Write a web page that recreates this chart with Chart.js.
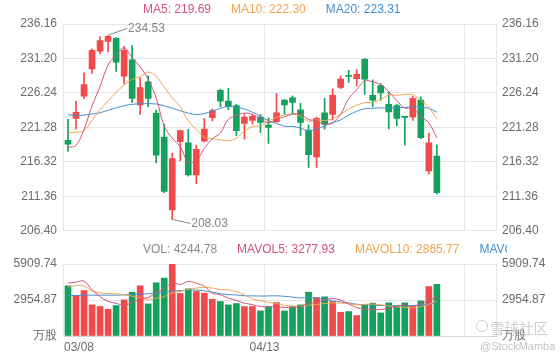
<!DOCTYPE html>
<html>
<head>
<meta charset="utf-8">
<script src="https://cdn.jsdelivr.net/npm/chart.js@4.4.1/dist/chart.umd.min.js"></script>
<style>
  body { margin: 0; background: #fff; }
  #wrap { position: relative; width: 560px; height: 360px; overflow: hidden; }
  #kline { position: absolute; left: 0; top: 0; }
  #vol { position: absolute; left: 0; top: 240px; }
  .wm1 { position: absolute; left: 490px; top: 317px; font: 14.5px "Noto Sans CJK SC", sans-serif; color: rgba(190,190,190,0.75); }
  .wm2 { position: absolute; left: 480px; top: 340px; font: 11px "Liberation Sans", Arial, sans-serif; color: #c4c4c4; }
  .wmIcon { position: absolute; left: 476px; top: 320px; width: 10px; height: 10px; border: 1px solid rgba(190,190,190,0.75); border-radius: 50%; }
</style>
</head>
<body>
<div id="wrap">
  <canvas id="kline" width="560" height="245"></canvas>
  <canvas id="vol" width="560" height="120"></canvas>
  <div class="wmIcon"></div>
  <div class="wm1">雪球社区</div>
  <div class="wm2">@StockMamba</div>
</div>
<script>
// trading days shown on the axis
const dates = [
  '03/08','03/09','03/10','03/11','03/12','03/15','03/16','03/17','03/18','03/19',
  '03/22','03/23','03/24','03/25','03/26','03/29','03/30','03/31','04/01','04/05',
  '04/06','04/07','04/08','04/09','04/12','04/13','04/14','04/15','04/16','04/19',
  '04/20','04/21','04/22','04/23','04/26','04/27','04/28','04/29','04/30','05/03',
  '05/04','05/05','05/06','05/07','05/10','05/11','05/12'
];
const slots = 54; // axis has room for more days than drawn

const opens = [219.43,222.58,225.76,229.69,232.24,233.67,234.10,228.67,230.99,224.52,
  227.84,223.34,219.90,209.41,219.21,219.07,214.44,219.29,222.67,226.60,
  225.07,224.42,221.84,222.30,222.76,221.60,222.12,225.21,225.53,223.82,
  220.91,217.03,223.37,223.13,227.05,228.67,228.30,231.07,225.90,227.29,
  224.61,224.42,222.78,222.76,225.21,215.02,217.17];
const closes = [218.87,223.45,227.43,232.38,233.76,234.40,230.68,232.38,225.45,227.01,
  225.45,217.27,212.08,216.80,220.82,214.44,218.14,221.05,223.69,225.07,
  224.28,220.82,222.76,222.89,221.98,221.29,223.37,224.52,224.89,221.98,
  217.35,222.58,221.74,225.90,228.22,228.63,228.91,228.22,225.21,226.25,
  223.50,222.58,222.73,225.45,219.80,219.07,211.90];
const highs = [222.44,225.07,229.13,232.60,234.36,234.53,234.20,232.93,233.07,228.40,
  228.67,223.82,221.74,217.59,220.90,221.01,218.74,222.58,223.96,226.80,
  226.91,224.60,223.13,223.13,223.13,222.67,226.14,225.30,225.81,224.75,
  221.65,222.78,225.45,226.83,228.70,229.51,229.60,231.17,228.12,227.57,
  226.39,224.60,222.89,225.76,225.67,220.45,218.76];
const lows = [217.82,221.05,225.45,229.05,231.90,232.14,229.33,227.52,224.89,223.13,
  224.28,216.16,211.90,208.03,216.48,214.26,213.19,219.20,222.20,224.28,
  223.82,220.08,219.60,221.74,220.57,218.97,222.00,223.13,223.13,220.12,
  215.51,215.51,221.01,222.37,226.87,227.77,227.29,226.04,224.28,225.21,
  221.05,221.51,218.74,222.30,219.67,214.60,211.67];
const volumes = [4121,3297,3736,2555,2417,2198,2500,2967,3599,4121,
  2637,4368,4752,5909.74,3488,3874,3654,3517,3022,2830,
  2555,2665,2417,2420,2060,2417,2747,2060,2417,2555,
  3599,3160,3214,2830,1951,2005,1676,2555,2700,1896,
  2720,2417,2720,2417,2880,4060,4244.78];

// moving-average values before a full window exists
const ma5Head = [218.4,218.7,221.0,224.4];
const ma10Head = [220.5,220.6,220.8,222.3,223.8,225.1,226.3,227.4,228.2];
const ma20Head = [223.1,223.0,223.05,223.2,223.4,223.75,224.1,224.4,224.6,224.68,
  224.7,224.65,224.38,224.03,223.68,223.34,223.13,223.27,223.62];
const mavol5Head = [4343,4426,4508,3791];
const mavol10Head = [4011,4146,4096,3709,3544,3488,3462,3379,3272];
const mavol20Head = [3324,3324,3352,3352,3352,3352,3352,3379,3407,3434,
  3462,3517,3599,3681,3736,3764,3764,3709,3599];

// axis ticks
const priceTicks = [236.16,231.20,226.24,221.28,216.32,211.36,206.40];
const volTicks = [0,2954.87,5909.74];
const shownDates = ['03/08','04/13'];
const splitEvery = 25;

// legend texts
const maLegend = ['MA5: 219.69','MA10: 222.30','MA20: 223.31'];
const volLegend = ['VOL: 4244.78','MAVOL5: 3277.93','MAVOL10: 2865.77','MAVOL20: 3006.42'];

const upColor = '#f04b4a';
const downColor = '#14a15c';
const ma5Color = '#d6507a';
const ma10Color = '#f2a34c';
const ma20Color = '#3f8fcf';
const gridColor = '#e6e6e6';
const textColor = '#6b6b6b';

Chart.defaults.font.family = '"Liberation Sans", Arial, sans-serif';
Chart.defaults.font.size = 12;
Chart.defaults.color = textColor;

const labels = dates.concat(Array(slots - dates.length).fill(''));
const candleColors = opens.map((o, i) => closes[i] >= o ? upColor : downColor);

function movingAvg(src, n, head) {
  return src.map((_, i) => {
    if (i < n - 1) return head[i];
    let s = 0;
    for (let k = i - n + 1; k <= i; k++) s += src[k];
    return s / n;
  });
}

function maLine(data, color) {
  return {
    type: 'line', data: data, borderColor: color, borderWidth: 1,
    pointRadius: 0, tension: 0.35, fill: false, order: 0
  };
}

// text row above each plot
const legendText = {
  id: 'legendText',
  afterDraw(chart, args, opts) {
    const ctx = chart.ctx;
    ctx.save();
    ctx.beginPath();
    ctx.rect(0, 0, opts.clipRight || chart.width, chart.height);
    ctx.clip();
    ctx.font = '12px "Liberation Sans", Arial, sans-serif';
    ctx.textBaseline = 'middle';
    let x = opts.left;
    opts.items.forEach(it => {
      ctx.fillStyle = it.color;
      ctx.fillText(it.text, x, opts.y);
      x += ctx.measureText(it.text).width + 20;
    });
    ctx.restore();
  }
};

// highest high / lowest low markers
const extremes = {
  id: 'extremes',
  afterDatasetsDraw(chart) {
    const xs = chart.scales.x, ys = chart.scales.y, ctx = chart.ctx;
    const hi = highs.indexOf(Math.max(...highs));
    const lo = lows.indexOf(Math.min(...lows));
    const mark = (i, v, dx, dy) => {
      const px = xs.getPixelForValue(i), py = ys.getPixelForValue(v);
      ctx.save();
      ctx.strokeStyle = '#8a8a8a';
      ctx.lineWidth = 1;
      ctx.beginPath();
      ctx.moveTo(px, py);
      ctx.lineTo(px + dx, py + dy);
      ctx.stroke();
      ctx.fillStyle = '#858585';
      ctx.font = '12px "Liberation Sans", Arial, sans-serif';
      ctx.textBaseline = 'middle';
      ctx.fillText(v.toFixed(2), px + dx + 1, py + dy);
      ctx.restore();
    };
    mark(hi, highs[hi], 19, -7);
    mark(lo, lows[lo], 18, 4);
  }
};

function xGrid(ctx) {
  if (ctx.type !== 'tick') return gridColor;
  return ctx.index % splitEvery === 0 ? gridColor : 'rgba(0,0,0,0)';
}

// K LINE
const kData = {
  labels: labels,
  datasets: [
    maLine(movingAvg(closes, 5, ma5Head), ma5Color),
    maLine(movingAvg(closes, 10, ma10Head), ma10Color),
    maLine(movingAvg(closes, 20, ma20Head), ma20Color),
    {
      type: 'bar', data: opens.map((o, i) => [o, closes[i]]),
      backgroundColor: candleColors, barThickness: 6, minBarLength: 1,
      grouped: false, order: 2
    },
    {
      type: 'bar', data: lows.map((l, i) => [l, highs[i]]),
      backgroundColor: candleColors, barThickness: 1,
      grouped: false, order: 3
    }
  ]
};

const priceAxis = (pos, width, pad) => ({
  position: pos, min: 206.40, max: 236.16,
  afterBuildTicks: s => { s.ticks = priceTicks.map(v => ({ value: v })); },
  afterFit: s => { s.width = width; },
  ticks: { padding: pad, callback: v => v.toFixed(2) },
  grid: { display: pos === 'left', color: gridColor, drawTicks: false },
  border: { display: false }
});

new Chart(document.getElementById('kline'), {
  type: 'bar',
  data: kData,
  options: {
    responsive: false, animation: false, devicePixelRatio: 1,
    layout: { padding: { top: 24 } },
    plugins: {
      legend: { display: false }, tooltip: { enabled: false },
      legendText: {
        left: 143, y: 10,
        items: [
          { text: maLegend[0], color: ma5Color },
          { text: maLegend[1], color: ma10Color },
          { text: maLegend[2], color: ma20Color }
        ]
      }
    },
    scales: {
      x: {
        offset: true,
        grid: { offset: true, drawTicks: false, color: xGrid },
        border: { display: false },
        ticks: { display: false, autoSkip: false },
        afterFit: s => { s.height = 6; }
      },
      y: priceAxis('left', 64, 7),
      yR: priceAxis('right', 63, 5)
    }
  },
  plugins: [legendText, extremes]
});

// VOLUME
const volAxis = (pos, width, pad) => ({
  position: pos, min: 0, max: 5909.74,
  afterBuildTicks: s => { s.ticks = volTicks.map(v => ({ value: v })); },
  afterFit: s => { s.width = width; },
  ticks: { padding: pad, callback: v => v === 0 ? '万股' : v.toFixed(2) },
  grid: { display: pos === 'left', color: gridColor, drawTicks: false },
  border: { display: false }
});

new Chart(document.getElementById('vol'), {
  type: 'bar',
  data: {
    labels: labels,
    datasets: [
      maLine(movingAvg(volumes, 5, mavol5Head), ma5Color),
      maLine(movingAvg(volumes, 10, mavol10Head), ma10Color),
      maLine(movingAvg(volumes, 20, mavol20Head), ma20Color),
      {
        type: 'bar', data: volumes, backgroundColor: candleColors,
        barThickness: 6, grouped: false, order: 2
      }
    ]
  },
  options: {
    responsive: false, animation: false, devicePixelRatio: 1,
    layout: { padding: { top: 24 } },
    plugins: {
      legend: { display: false }, tooltip: { enabled: false },
      legendText: {
        left: 143, y: 10, clipRight: 507,
        items: [
          { text: volLegend[0], color: '#8a8a8a' },
          { text: volLegend[1], color: ma5Color },
          { text: volLegend[2], color: ma10Color },
          { text: volLegend[3], color: ma20Color }
        ]
      }
    },
    scales: {
      x: {
        offset: true,
        grid: { offset: true, drawTicks: false, color: xGrid },
        border: { display: true, color: '#d6d6d6' },
        ticks: {
          autoSkip: false, maxRotation: 0, align: 'inner', labelOffset: -4, padding: 4,
          callback: function(v, i) {
            const d = this.getLabelForValue(v);
            return shownDates.includes(d) ? d : '';
          }
        },
        afterFit: s => { s.height = 24; }
      },
      y: volAxis('left', 64, 7),
      yR: volAxis('right', 63, 5)
    }
  },
  plugins: [legendText]
});
</script>
</body>
</html>
